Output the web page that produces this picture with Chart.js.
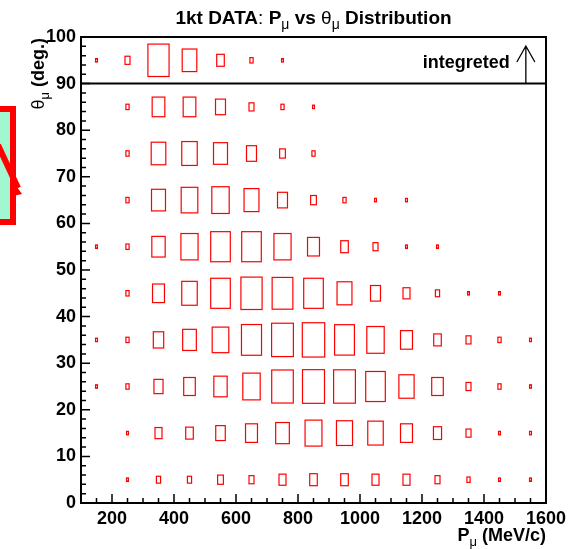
<!DOCTYPE html>
<html>
<head>
<meta charset="utf-8">
<script src="https://cdn.jsdelivr.net/npm/chart.js@4.4.1/dist/chart.umd.min.js"></script>
<style>
body{margin:0;background:#fff;}
canvas{display:block;}
</style>
</head>
<body>
<canvas id="c" width="574" height="549"></canvas>
<script>
// bin centres: muon momentum (MeV/c) and muon angle (deg.)
var pCenters = [150,250,350,450,550,650,750,850,950,1050,1150,1250,1350,1450,1550];
var thetaCenters = [95,85,75,65,55,45,35,25,15,5];
var xTicks = [200,400,600,800,1000,1200,1400,1600];

// events per bin, one row per theta bin (top row = everything above 90 deg)
var rowInteg = [1,4,52,26, 8, 2, 1, 0, 0, 0, 0, 0,0,0,0];
var row85    = [0,2,20,20,13, 4, 2, 1, 0, 0, 0, 0,0,0,0];
var row75    = [0,2,26,29,24,13, 5, 2, 0, 0, 0, 0,0,0,0];
var row65    = [0,2,24,33,36,27,13, 5, 2, 1, 1, 0,0,0,0];
var row55    = [1,2,22,35,45,45,35,18, 8, 4, 1, 1,0,0,0];
var row45    = [0,2,18,29,45,52,50,45,27,13, 7, 3,1,1,0];
var row35    = [1,2,14,23,33,47,55,58,46,36,18, 8,4,2,1];
var row25    = [1,2,11,17,22,36,54,56,55,45,28,17,4,2,1];
var row15    = [0,1, 7, 8,12,18,23,34,31,29,18, 9,4,1,1];
var row5     = [0,1, 3, 3, 5, 4, 7, 8, 8, 7, 7, 4,2,1,1];
var rows = [rowInteg,row85,row75,row65,row55,row45,row35,row25,row15,row5];
var zMax = 100;

var FONT = "'Liberation Sans', Arial, Helvetica, sans-serif";

var cells = [];
for(var r=0;r<rows.length;r++){
	for(var c=0;c<pCenters.length;c++){
		if(rows[r][c] > 0){
			cells.push({x: pCenters[c], y: thetaCenters[r], v: rows[r][c]});
		}
	}
}

// text with bold / normal / subscript pieces
function richText(ctx, parts, x, y, align, size){
	var total = 0, i;
	for(i=0;i<parts.length;i++){
		ctx.font = partFont(parts[i], size);
		parts[i].w = ctx.measureText(parts[i].t).width;
		total += parts[i].w;
	}
	var cx = align == 'center' ? x - total/2 : (align == 'right' ? x - total : x);
	ctx.textAlign = 'left';
	ctx.textBaseline = 'alphabetic';
	for(i=0;i<parts.length;i++){
		ctx.font = partFont(parts[i], size);
		ctx.fillText(parts[i].t, cx, y + (parts[i].sub ? 5 : 0));
		cx += parts[i].w;
	}
}
function partFont(p, size){
	if(p.sub) return Math.round(size*0.72) + "px " + FONT;
	return (p.b ? "bold " : "") + size + "px " + FONT;
}

var boxPlugin = {
	id: 'boxes',
	afterDatasetsDraw: function(chart){
		var ctx = chart.ctx, xs = chart.scales.x, ys = chart.scales.y;
		var pts = chart.data.datasets[0].data;
		var lw = 1.2;
		ctx.save();
		ctx.strokeStyle = '#ff0000';
		ctx.lineWidth = lw;
		for(var i=0;i<pts.length;i++){
			var f = Math.sqrt(pts[i].v / zMax);
			var x0 = xs.getPixelForValue(pts[i].x - 50*f), x1 = xs.getPixelForValue(pts[i].x + 50*f);
			var y0 = ys.getPixelForValue(pts[i].y + 5*f), y1 = ys.getPixelForValue(pts[i].y - 5*f);
			var w = Math.max(x1 - x0 - lw, 1), h = Math.max(y1 - y0 - lw, 1);
			var cx = (x0 + x1)/2, cy = (y0 + y1)/2;
			ctx.strokeRect(cx - w/2, cy - h/2, w, h);
		}
		ctx.restore();
	}
};

var framePlugin = {
	id: 'frame',
	beforeDraw: function(chart){
		// bit of a neighbouring label sticking in from the left
		var ctx = chart.ctx;
		ctx.save();
		ctx.fillStyle = '#a2f7d0';
		ctx.fillRect(0, 109, 13, 113);
		ctx.strokeStyle = '#ff0000';
		ctx.lineWidth = 6;
		ctx.strokeRect(-20, 109, 33, 113);
		ctx.beginPath();
		ctx.moveTo(-2, 145);
		ctx.lineTo(18, 188);
		ctx.stroke();
		ctx.fillStyle = '#ff0000';
		ctx.beginPath();
		ctx.moveTo(12, 180);
		ctx.lineTo(22, 194);
		ctx.lineTo(13, 196);
		ctx.closePath();
		ctx.fill();
		ctx.restore();
	},
	afterDraw: function(chart){
		var ctx = chart.ctx, a = chart.chartArea;
		var xs = chart.scales.x, ys = chart.scales.y;
		var v, px, len;
		ctx.save();
		ctx.strokeStyle = '#000';
		ctx.lineWidth = 1.5;

		// ticks on the inside of the bottom and left axes
		ctx.beginPath();
		for(v=150; v<1600; v+=50){
			px = xs.getPixelForValue(v);
			len = (v % 200 == 0) ? 9 : 5;
			ctx.moveTo(px, a.bottom);
			ctx.lineTo(px, a.bottom - len);
		}
		for(v=2; v<100; v+=2){
			px = ys.getPixelForValue(v);
			len = (v % 10 == 0) ? 9 : 5;
			ctx.moveTo(a.left, px);
			ctx.lineTo(a.left + len, px);
		}
		ctx.stroke();

		ctx.lineWidth = 2;
		ctx.strokeRect(a.left, a.top, a.right - a.left, a.bottom - a.top);

		// separator for the integrated row
		var y90 = ys.getPixelForValue(90);
		ctx.beginPath();
		ctx.moveTo(a.left, y90);
		ctx.lineTo(a.right, y90);
		ctx.stroke();

		// arrow pointing up
		var ax = xs.getPixelForValue(1535);
		ctx.lineWidth = 1.3;
		ctx.beginPath();
		ctx.moveTo(ax, y90);
		ctx.lineTo(ax, a.top + 9);
		ctx.moveTo(ax - 9, a.top + 25);
		ctx.lineTo(ax, a.top + 9);
		ctx.lineTo(ax + 9, a.top + 25);
		ctx.stroke();

		ctx.fillStyle = '#000';
		ctx.font = "bold 18px " + FONT;
		ctx.textAlign = 'right';
		ctx.textBaseline = 'alphabetic';
		ctx.fillText('integreted', ax - 16, a.top + 31);

		// main title
		richText(ctx, [
			{t:'1kt DATA', b:1}, {t:':'}, {t:' P', b:1}, {t:'\u03bc', sub:1},
			{t:' vs ', b:1}, {t:'\u03b8'}, {t:'\u03bc', sub:1}, {t:' Distribution', b:1}
		], (a.left + a.right)/2, 24, 'center', 19);

		// x axis title
		richText(ctx, [{t:'P', b:1}, {t:'\u03bc', sub:1}, {t:' (MeV/c)', b:1}], a.right, 541, 'right', 18);

		// y axis title, rotated
		ctx.translate(44, a.top + 1);
		ctx.rotate(-Math.PI/2);
		richText(ctx, [{t:'\u03b8'}, {t:'\u03bc', sub:1}, {t:' (deg.)', b:1}], 0, 0, 'right', 18);
		ctx.restore();
	}
};

new Chart(document.getElementById('c'), {
	type: 'scatter',
	data: {
		datasets: [{
			label: 'events',
			data: cells,
			pointRadius: 0,
			pointHoverRadius: 0
		}]
	},
	options: {
		responsive: false,
		animation: false,
		devicePixelRatio: 1,
		layout: { padding: { left: 0, right: 28, top: 37, bottom: 16 } },
		scales: {
			x: {
				type: 'linear',
				min: 100,
				max: 1600,
				afterBuildTicks: function(s){ s.ticks = xTicks.map(function(v){ return {value: v}; }); },
				afterFit: function(s){ s.height = 30; },
				grid: { display: false, drawTicks: false },
				border: { display: false },
				ticks: { color: '#000', padding: 5, maxRotation: 0, autoSkip: false,
					callback: function(v){ return String(v); },
					font: { family: FONT, size: 18, weight: 'bold' } }
			},
			y: {
				type: 'linear',
				min: 0,
				max: 100,
				afterFit: function(s){ s.width = 81; },
				grid: { display: false, drawTicks: false },
				border: { display: false },
				ticks: { color: '#000', stepSize: 10, padding: 5,
					callback: function(v){ return String(v); },
					font: { family: FONT, size: 18, weight: 'bold' } }
			}
		},
		plugins: {
			legend: { display: false },
			tooltip: { enabled: false },
			title: { display: false }
		}
	},
	plugins: [boxPlugin, framePlugin]
});
</script>
</body>
</html>
